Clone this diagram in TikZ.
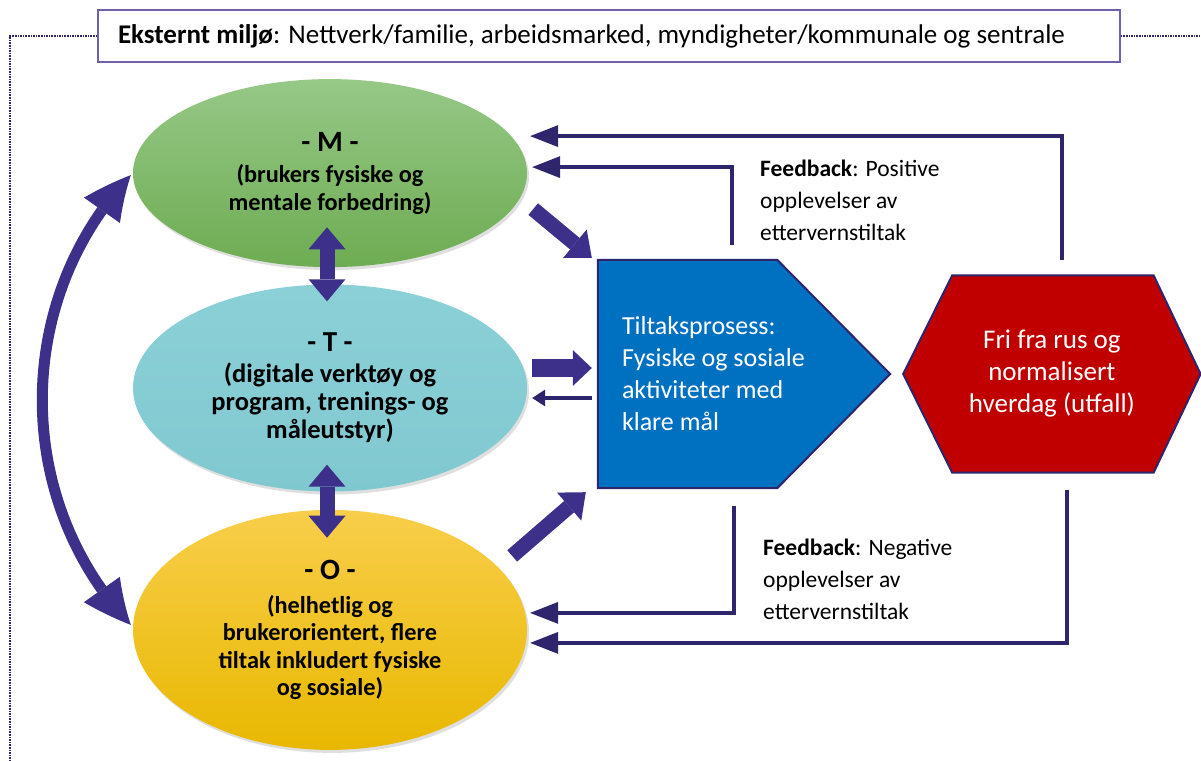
\documentclass[tikz,border=0pt]{standalone}
\usepackage{fontspec}
\setmainfont{Carlito}
\usetikzlibrary{calc}
\usetikzlibrary{shapes}
\usetikzlibrary{positioning}
\usetikzlibrary{arrows.meta}
\usetikzlibrary{bending}
\usetikzlibrary{backgrounds}
\usetikzlibrary{shadows}

\definecolor{arrowblue}{RGB}{60,48,138}
\definecolor{lineblue}{RGB}{46,38,108}
\definecolor{boxline}{RGB}{112,96,170}
\definecolor{procblue}{RGB}{0,112,192}
\definecolor{outred}{RGB}{192,0,0}
\definecolor{greentop}{RGB}{150,200,135}
\definecolor{greenbot}{RGB}{110,172,82}
\definecolor{tealtop}{RGB}{140,208,215}
\definecolor{tealbot}{RGB}{128,200,208}
\definecolor{yellowtop}{RGB}{248,206,75}
\definecolor{yellowbot}{RGB}{232,184,0}

\begin{document}
\begin{tikzpicture}[x=1pt, y=-1pt,
        every node/.style={inner sep=0pt},
        mto/.style={ellipse, minimum width=394pt, align=center, font=\fontsize{24.3}{27.5}\selectfont\bfseries,
            drop shadow={opacity=0.25, shadow xshift=2pt, shadow yshift=-3pt}},
        proc text/.style={minimum width=292pt, minimum height=228pt, text width=244pt, align=flush left,
            text=white, font=\fontsize{26}{32}\selectfont},
        out text/.style={minimum width=297pt, minimum height=197pt, align=center,
            text=white, font=\fontsize{27}{32}\selectfont},
        fb text/.style={align=left, font=\fontsize{23.5}{32}\selectfont},
        block/.style={draw=arrowblue, line width=15pt, -{Triangle[length=22pt, width=37pt, line width=0pt]}},
        double block/.style={block, {Triangle[length=22pt, width=37pt, line width=0pt]}-{Triangle[length=22pt, width=37pt, line width=0pt]}},
        fb line/.style={draw=lineblue, line width=3.5pt, -{Triangle[length=28pt, width=22pt, line width=0pt]}},
        frame line/.style={draw=lineblue, densely dotted, line width=1.6pt}]
    \useasboundingbox (0,0) rectangle (1201,760);

    \node[draw=boxline, line width=1.5pt, minimum width=1022pt, minimum height=52pt, text width=982pt, align=flush left,
        font=\fontsize{27}{30}\selectfont] (env) at (609,36)
        {\textbf{Eksternt miljø}: Nettverk/familie, arbeidsmarked, myndigheter/kommunale og sentrale};
    \coordinate (frame corner) at (10,760);
    \coordinate (frame right) at (1201,36);
    \draw[frame line] (env.west) -| (frame corner);
    \draw[frame line] (env.east) -- (frame right);

    \node[mto, minimum height=207pt, top color=tealtop, bottom color=tealbot, font=\fontsize{26.5}{28}\selectfont\bfseries] (T) at (330,388)
        {{\fontsize{29}{30}\selectfont - T -}\\[3pt](digitale verktøy og\\program, trenings- og\\måleutstyr)};
    \node[mto, minimum height=188pt, top color=greentop, bottom color=greenbot, above=17pt of T] (M)
        {{\fontsize{29.5}{30}\selectfont - M -}\\[4pt](brukers fysiske og\\mentale forbedring)};
    \node[mto, minimum height=240pt, top color=yellowtop, bottom color=yellowbot, below=18pt of T] (O)
        {{\fontsize{29.5}{30}\selectfont - O -}\\[6pt](helhetlig og\\brukerorientert, flere\\tiltak inkludert fysiske\\og sosiale)};

    \node[proc text] (proc) at (744,374) {Tiltaksprosess:\\Fysiske og sosiale\\aktiviteter med\\klare mål};
    \node[out text, right=13pt of proc] (outcome) {Fri fra rus og\\normalisert\\hverdag (utfall)};

    \begin{scope}[on background layer]
        \draw[fill=procblue, draw=lineblue, line width=2pt, line join=miter]
            (proc.north west) -- ($(proc.north east)-(113,0)$) -- (proc.east)
            -- ($(proc.south east)-(113,0)$) -- (proc.south west) -- cycle;
        \draw[fill=outred, draw=lineblue, line width=2pt, line join=miter]
            (outcome.west) -- ($(outcome.north west)+(49,0)$) -- ($(outcome.north east)-(47,0)$)
            -- (outcome.east) -- ($(outcome.south east)-(47,0)$) -- ($(outcome.south west)+(49,0)$) -- cycle;
    \end{scope}

    \node[fb text, anchor=west] (pos fb) at (760,200) {\textbf{Feedback}: Positive\\opplevelser av\\ettervernstiltak};
    \node[fb text, anchor=west] (neg fb) at (763,579) {\textbf{Feedback}: Negative\\opplevelser av\\ettervernstiltak};

    \draw[double block] ($(M.south)+(-3,-40)$) -- ($(T.north)+(-3,17)$);
    \draw[double block] ($(T.south)+(-3,-27)$) -- ($(O.north)+(-3,28)$);
    \draw[draw=arrowblue, line width=11pt,
        {Triangle[length=46pt, width=44pt, line width=0pt, bend]}-{Triangle[length=46pt, width=44pt, line width=0pt, bend]}]
        ($(M.west)+(-2,2)$) .. controls +(-118,125) and +(-118,-125) .. ($(O.west)+(-2,-5)$);

    \draw[block] ($(M.east)+(6,36)$) -- ($(proc.north west)+(-6,-2)$);
    \draw[block] ($(O.east)+(-15,-74)$) -- ($(proc.south west)+(-12,4)$);
    \draw[block, line width=18pt, -{Triangle[length=19pt, width=36pt, line width=0pt]}]
        ($(T.east)+(5,-20)$) -- ($(proc.west)+(-6,-6)$);
    \draw[fb line, line width=4pt, -{Triangle[length=13pt, width=17pt, line width=0pt]}]
        ($(proc.west)+(-6,24)$) -- ($(T.east)+(5,10)$);

    \draw[fb line] ($(outcome.north)+(10,-15)$) |- ($(M.east)+(3,-37)$);
    \draw[fb line] ($(proc.north)+(-12,-15)$) |- ($(M.east)+(5,-6)$);
    \draw[fb line] ($(proc.south)+(-10,18)$) |- ($(O.east)+(3,-17)$);
    \draw[fb line] ($(outcome.south)+(15,17)$) |- ($(O.east)+(3,13)$);
\end{tikzpicture}
\end{document}
